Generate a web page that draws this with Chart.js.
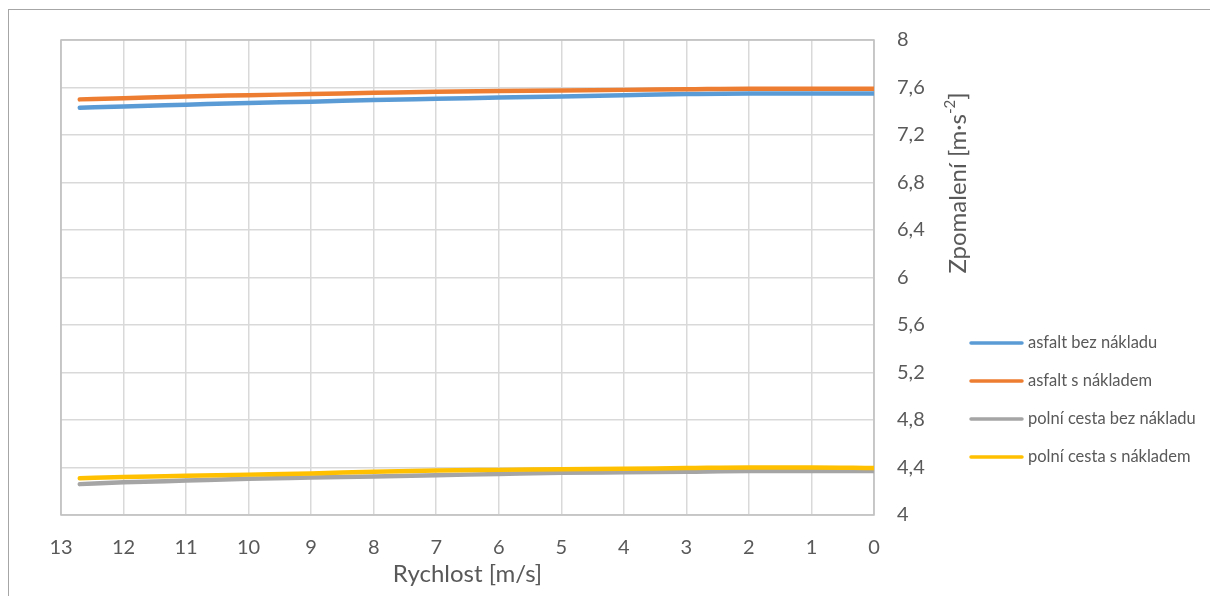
<!DOCTYPE html>
<html>
<head>
<meta charset="utf-8">
<script src="https://cdn.jsdelivr.net/npm/chart.js@4.4.1/dist/chart.umd.min.js"></script>
<style>
  body { margin: 0; background: #ffffff; }
  #wrap { position: relative; width: 1210px; height: 596px; overflow: hidden; }
  #frame { position: absolute; left: 8px; top: 9px; width: 1300px; height: 700px; border: 1px solid #a6a6a6; }
  canvas { position: absolute; left: 0; top: 0; }
</style>
</head>
<body>
<div id="wrap">
  <div id="frame"></div>
  <canvas id="brakeChart" width="1210" height="596"></canvas>
</div>
<script>
// ===============================
// Data
// ===============================
const speeds = [12.7, 12, 11, 10, 9, 8, 7, 6, 5, 4, 3, 2, 1, 0];

const asfaltBez = [7.43, 7.44, 7.455, 7.47, 7.48, 7.495, 7.505, 7.515, 7.525, 7.535, 7.545, 7.55, 7.55, 7.55];
const asfaltS = [7.50, 7.51, 7.525, 7.535, 7.545, 7.555, 7.565, 7.57, 7.575, 7.58, 7.585, 7.59, 7.59, 7.59];
const polniBez = [4.26, 4.275, 4.29, 4.305, 4.315, 4.325, 4.335, 4.345, 4.355, 4.36, 4.365, 4.37, 4.37, 4.37];
const polniS = [4.31, 4.32, 4.33, 4.34, 4.35, 4.365, 4.375, 4.38, 4.385, 4.39, 4.395, 4.40, 4.40, 4.395];

const seriesNames = ["asfalt bez nákladu", "asfalt s nákladem", "polní cesta bez nákladu", "polní cesta s nákladem"];
const seriesColors = ["#5b9bd5", "#ed7d31", "#a5a5a5", "#ffc000"];

const xTitle = "Rychlost [m/s]";
const yTitleMain = "Zpomalení [m·s";
const yTitleSup = "-2";
const yTitleEnd = "]";

const TEXT_COLOR = "#595959";
const FONT_FAMILY = "Lato, 'Open Sans', sans-serif";

// -------------------------------
// helpers
// -------------------------------
function toPoints(values) {
  return speeds.map((s, i) => ({ x: s, y: values[i] }));
}

function formatComma(value) {
  return String(Number(value.toFixed(1))).replace(".", ",");
}

// plot area border (drawn over the grid)
const plotBorder = {
  id: "plotBorder",
  beforeDatasetsDraw(chart) {
    const { ctx, chartArea } = chart;
    ctx.save();
    ctx.strokeStyle = "#bfbfbf";
    ctx.lineWidth = 1.5;
    ctx.strokeRect(chartArea.left, chartArea.top, chartArea.right - chartArea.left, chartArea.bottom - chartArea.top);
    ctx.restore();
  }
};

// axis titles + legend, placed like the Excel original
const titlesAndLegend = {
  id: "titlesAndLegend",
  afterDraw(chart) {
    const { ctx, chartArea } = chart;
    ctx.save();
    ctx.fillStyle = TEXT_COLOR;

    // x title
    ctx.font = "24px " + FONT_FAMILY;
    ctx.textAlign = "center";
    ctx.textBaseline = "middle";
    ctx.fillText(xTitle, (chartArea.left + chartArea.right) / 2, 574);

    // y title (rotated, with superscript)
    ctx.translate(958, 183);
    ctx.rotate(-Math.PI / 2);
    ctx.font = "24px " + FONT_FAMILY;
    const wMain = ctx.measureText(yTitleMain).width;
    const wEnd = ctx.measureText(yTitleEnd).width;
    ctx.font = "15px " + FONT_FAMILY;
    const wSup = ctx.measureText(yTitleSup).width;
    const total = wMain + wSup + wEnd;
    let x = -total / 2;
    ctx.textAlign = "left";
    ctx.font = "24px " + FONT_FAMILY;
    ctx.fillText(yTitleMain, x, 0);
    x += wMain;
    ctx.font = "15px " + FONT_FAMILY;
    ctx.fillText(yTitleSup, x, -8);
    x += wSup;
    ctx.font = "24px " + FONT_FAMILY;
    ctx.fillText(yTitleEnd, x, 0);
    ctx.restore();

    // legend
    ctx.save();
    ctx.font = "16.5px " + FONT_FAMILY;
    ctx.textAlign = "left";
    ctx.textBaseline = "middle";
    const rows = [343, 381, 419, 457];
    seriesNames.forEach((name, i) => {
      ctx.strokeStyle = seriesColors[i];
      ctx.lineWidth = 3.5;
      ctx.lineCap = "round";
      ctx.beginPath();
      ctx.moveTo(971, rows[i]);
      ctx.lineTo(1022, rows[i]);
      ctx.stroke();
      ctx.fillStyle = TEXT_COLOR;
      ctx.fillText(name, 1028, rows[i]);
    });
    ctx.restore();
  }
};

// ===============================
// Chart
// ===============================
const seriesValues = [asfaltBez, asfaltS, polniBez, polniS];

new Chart(document.getElementById("brakeChart"), {
  type: "line",
  data: {
    datasets: seriesValues.map((vals, i) => ({
      label: seriesNames[i],
      data: toPoints(vals),
      borderColor: seriesColors[i],
      backgroundColor: seriesColors[i],
      borderWidth: 4.5,
      pointRadius: 0,
      cubicInterpolationMode: "monotone",
      borderCapStyle: "round",
      order: 3 - i // later series drawn on top, like Excel
    }))
  },
  options: {
    responsive: false,
    animation: false,
    layout: { padding: { left: 61, top: 40, right: 0, bottom: 0 } },
    plugins: {
      legend: { display: false },
      tooltip: { enabled: false }
    },
    scales: {
      x: {
        type: "linear",
        reverse: true,
        min: 0,
        max: 13,
        ticks: {
          stepSize: 1,
          color: TEXT_COLOR,
          padding: 21,
          font: { family: FONT_FAMILY, size: 20 }
        },
        grid: { color: "#d9d9d9", lineWidth: 1.5, drawTicks: false },
        border: { display: false },
        afterFit: scale => { scale.height = 596 - 515; }
      },
      y: {
        position: "right",
        min: 4,
        max: 8,
        ticks: {
          stepSize: 0.4,
          color: TEXT_COLOR,
          padding: 23,
          font: { family: FONT_FAMILY, size: 20 },
          callback: value => formatComma(value)
        },
        grid: { color: "#d9d9d9", lineWidth: 1.5, drawTicks: false },
        border: { display: false },
        afterFit: scale => { scale.width = 1210 - 874; }
      }
    }
  },
  plugins: [plotBorder, titlesAndLegend]
});
</script>
</body>
</html>
